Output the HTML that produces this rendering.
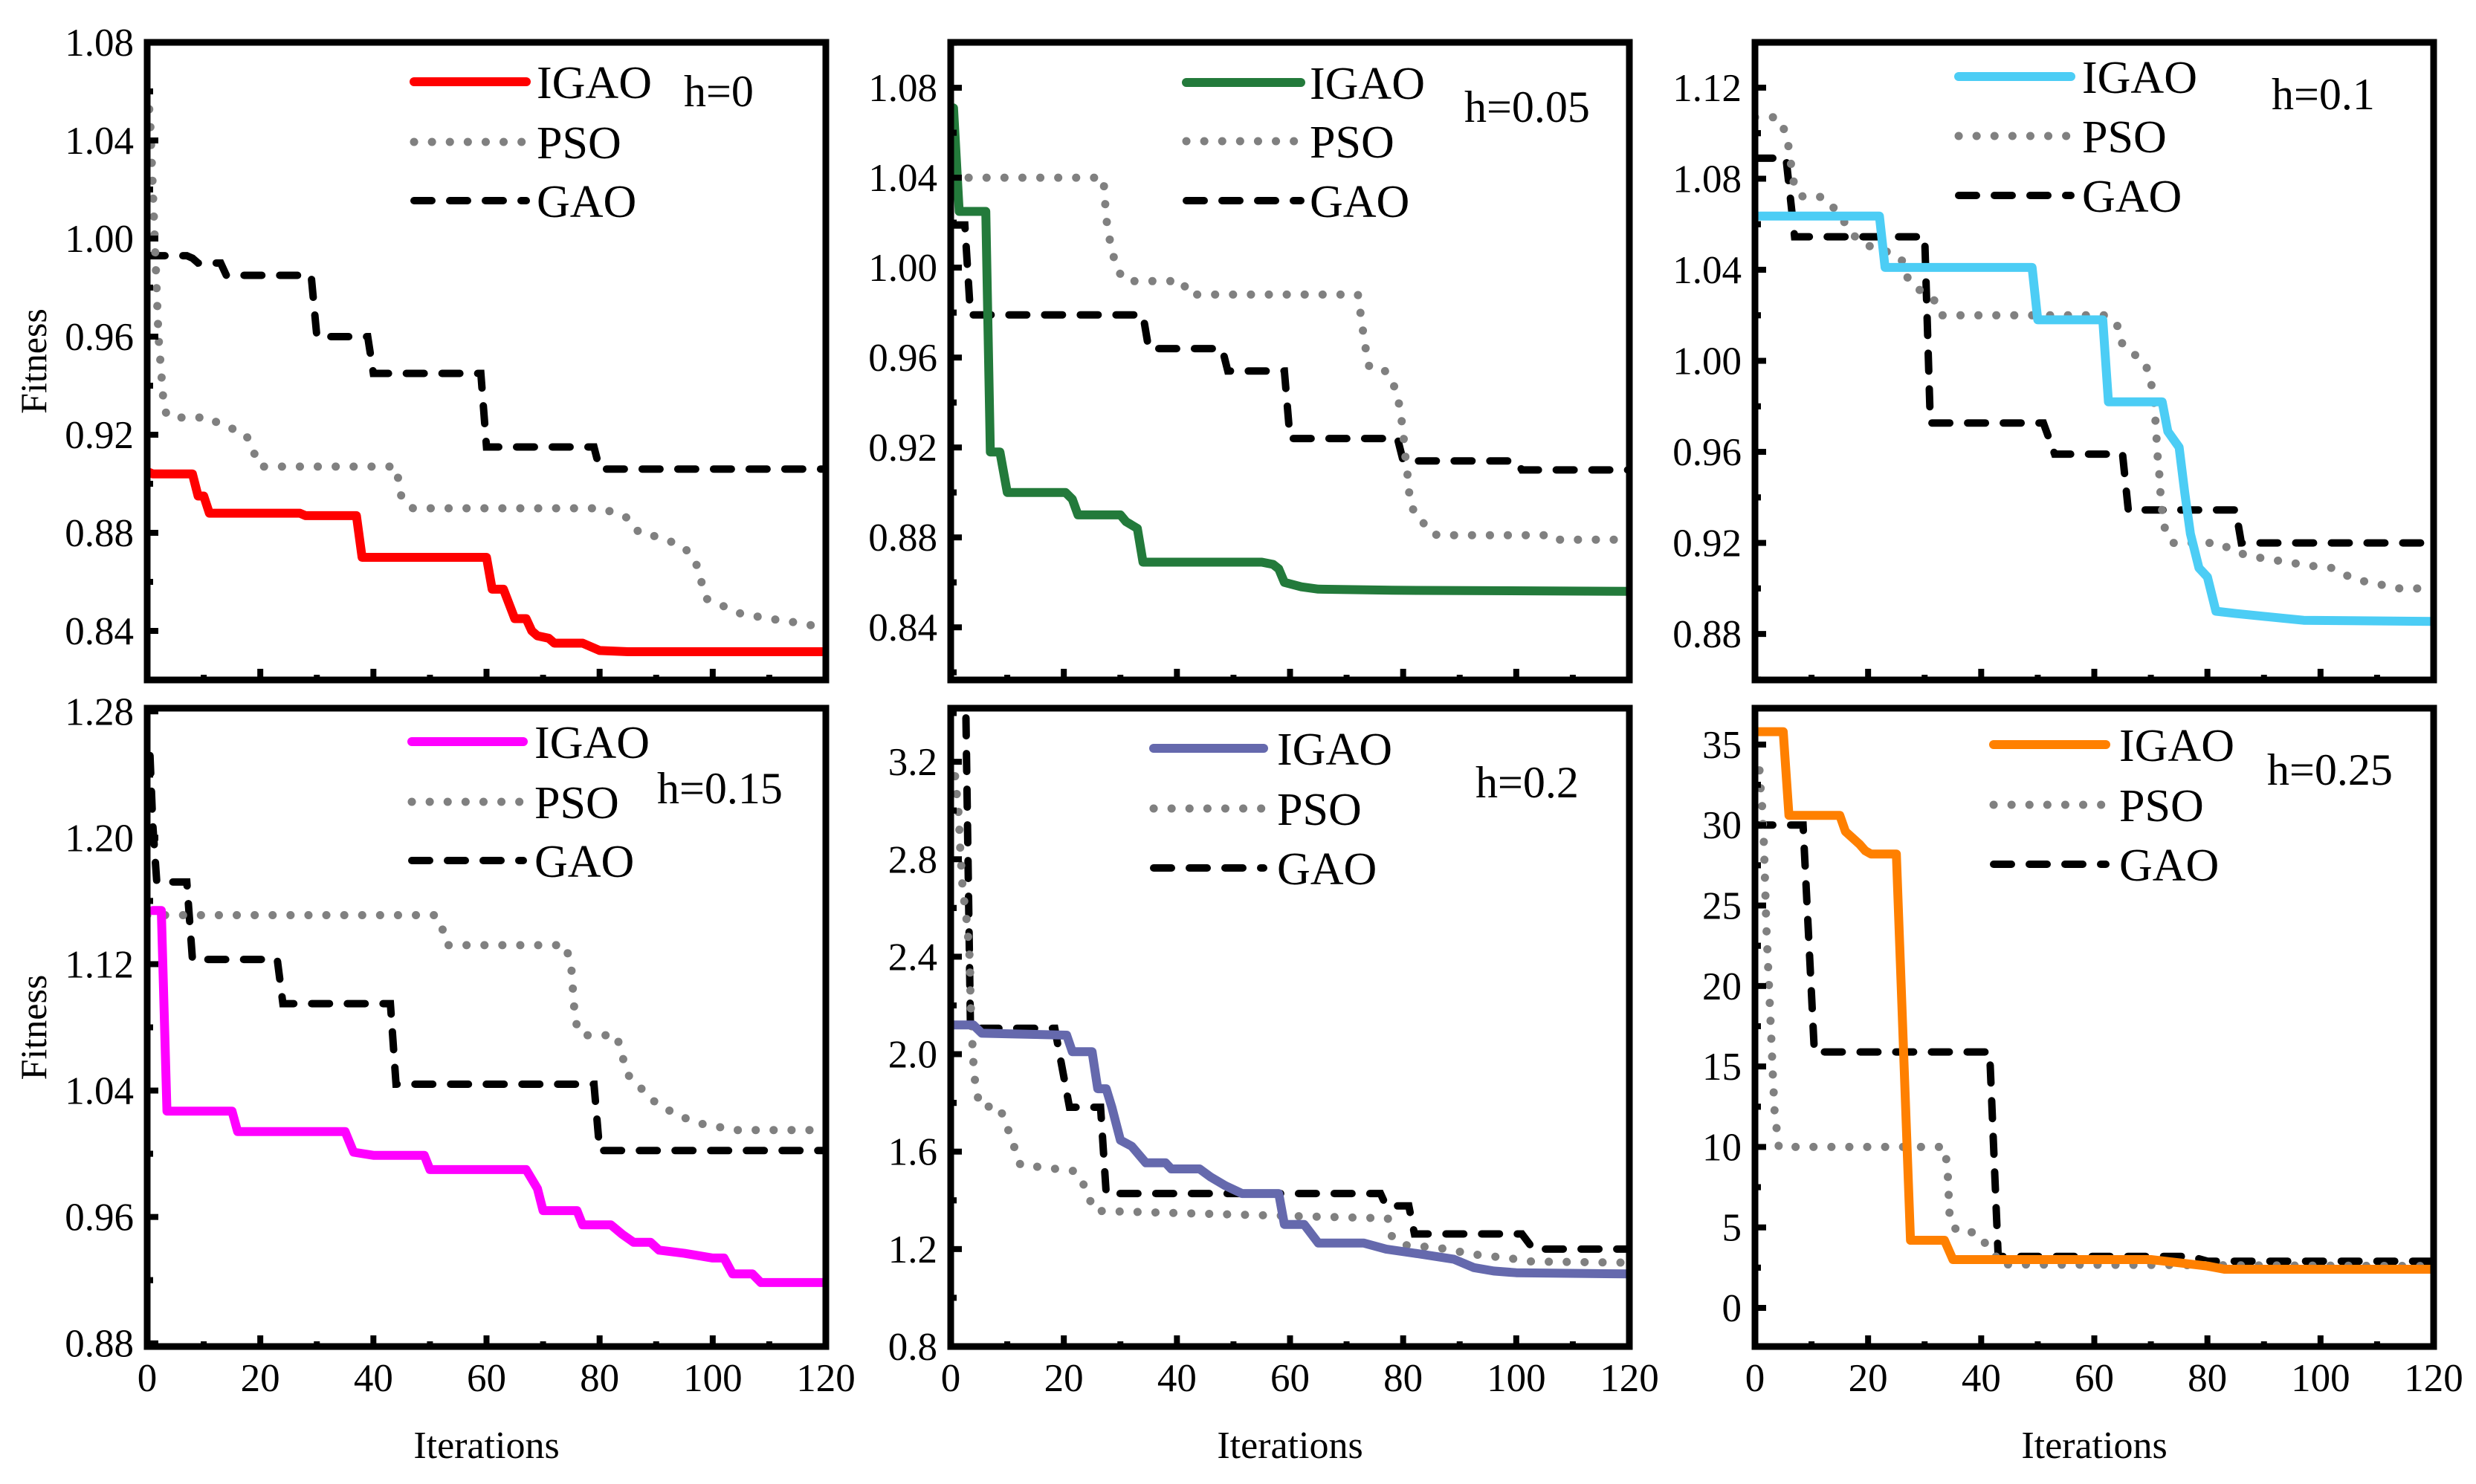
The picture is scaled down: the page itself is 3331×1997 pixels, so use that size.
<!DOCTYPE html>
<html><head><meta charset="utf-8"><style>
html,body{margin:0;padding:0;background:#fff;}
svg{display:block;font-family:"Liberation Serif",serif;}
</style></head><body>
<svg id="chart" xmlns="http://www.w3.org/2000/svg" width="3331" height="1997" viewBox="0 0 3331 1997"></svg>
<script>
// ---- data: h=0 ----
const h0_igao_x=[0,1,8,9,10,11,27,28,37,38,60,61,63,65,67,68,69,71,72,77,80,85,120];
const h0_igao_y=[0.905,0.904,0.904,0.895,0.895,0.888,0.888,0.887,0.887,0.870,0.870,0.857,0.857,0.845,0.845,0.840,0.838,0.837,0.835,0.835,0.832,0.8315,0.8315];
const h0_pso_x=[0,0.5,1,1.5,2,2.5,3,4,11,13,17,18,19,20,44,45,47,80,83,85,87,91,95,97,98,99,102,105,110,116,120];
const h0_pso_y=[1.06,1.05,1.02,0.99,0.96,0.945,0.93,0.927,0.927,0.924,0.921,0.918,0.912,0.907,0.907,0.894,0.890,0.890,0.888,0.886,0.880,0.878,0.874,0.868,0.860,0.853,0.850,0.847,0.845,0.843,0.841];
const h0_gao_x=[0,7,8,9,13,14,29,30,39,40,59,60,79,80,120];
const h0_gao_y=[0.993,0.993,0.992,0.990,0.990,0.985,0.985,0.960,0.960,0.945,0.945,0.915,0.915,0.906,0.906];
// ---- data: h=0.05 ----
const h05_igao_x=[0.5,1.5,6.2,7,8.7,10,20.3,21.5,22.5,30,31,33,34,55,57,58,59,62,65,78,120];
const h05_igao_y=[1.071,1.025,1.025,0.918,0.918,0.900,0.900,0.897,0.890,0.890,0.887,0.884,0.869,0.869,0.868,0.866,0.860,0.858,0.857,0.8565,0.856];
const h05_pso_x=[0,27,27.5,28,28.5,29,30,31,41,42,72,72.5,73,73.5,74,76.5,78,79,79.5,80,80.3,80.7,81,81.5,83,84,86,105,106,120];
const h05_pso_y=[1.04,1.04,1.022,1.014,1.008,1.003,0.997,0.994,0.994,0.988,0.988,0.979,0.970,0.962,0.956,0.955,0.950,0.943,0.936,0.927,0.918,0.910,0.901,0.893,0.890,0.884,0.881,0.881,0.879,0.879];
const h05_gao_x=[0,2.5,3.5,34,35,48,49,59,60,79,80,100,101,120];
const h05_gao_y=[1.019,1.019,0.979,0.979,0.964,0.964,0.954,0.954,0.924,0.924,0.914,0.914,0.910,0.910];
// ---- data: h=0.1 ----
const h1_igao_x=[0,22,23,49,50,61.5,62.5,72,73,75,76,77,78.5,80,81.5,85,93,97,120];
const h1_igao_y=[1.0636,1.0636,1.041,1.041,1.018,1.018,0.982,0.982,0.969,0.962,0.942,0.924,0.909,0.905,0.890,0.889,0.887,0.886,0.8855];
const h1_pso_x=[0,4,5.5,6,6.5,7,8.5,12,14,15.5,17.5,19.5,24.5,26,26.5,27.5,32,33,62,64,65,69,70,70.5,70.8,71,71.2,71.5,71.7,72,72.5,74,82,85,88,93,98,102,106,110,114,120];
const h1_pso_y=[1.107,1.107,1.100,1.093,1.084,1.076,1.072,1.072,1.067,1.062,1.055,1.051,1.047,1.044,1.039,1.034,1.026,1.020,1.020,1.016,1.007,0.999,0.991,0.983,0.974,0.966,0.958,0.950,0.942,0.934,0.926,0.920,0.920,0.916,0.914,0.912,0.910,0.909,0.904,0.902,0.900,0.900];
const h1_gao_x=[0,5.5,7,30,31,51,53,65,66,85,86,120];
const h1_gao_y=[1.089,1.089,1.0545,1.0545,0.9727,0.9727,0.959,0.959,0.9345,0.9345,0.920,0.920];
// ---- data: h=0.15 ----
const h15_igao_x=[1,2.5,3.5,15,16,35,36.5,40,49,50,67,69,70,76,77,82,84,86,89,90.5,95,100,102,103.5,107,108.5,120];
const h15_igao_y=[1.154,1.154,1.027,1.027,1.014,1.014,1.001,0.999,0.999,0.990,0.990,0.978,0.964,0.964,0.955,0.955,0.949,0.944,0.944,0.939,0.937,0.934,0.934,0.924,0.924,0.9185,0.9185];
const h15_pso_x=[0,51,52,53,74,75,75.5,76,77,83,84,85,88,90,94,98,104,120];
const h15_pso_y=[1.151,1.151,1.145,1.132,1.132,1.118,1.093,1.080,1.075,1.075,1.062,1.050,1.039,1.032,1.024,1.019,1.015,1.015];
const h15_gao_x=[0.5,1,1.7,7,8,23,24,43,44,79,80,120];
const h15_gao_y=[1.252,1.208,1.172,1.172,1.123,1.123,1.095,1.095,1.044,1.044,1.002,1.002];
// ---- data: h=0.2 ----
const h2_igao_x=[0,4,5.5,20.5,21.5,25,26,27.5,28.5,30,32,34.5,38,39,44,46,48.5,51.5,58,59,62.5,65,73,77,82,89,92.5,96,100,120];
const h2_igao_y=[2.12,2.12,2.086,2.078,2.01,2.01,1.858,1.858,1.782,1.647,1.622,1.554,1.554,1.529,1.529,1.495,1.461,1.428,1.428,1.301,1.301,1.225,1.225,1.2,1.183,1.158,1.124,1.11,1.103,1.098];
const h2_pso_x=[0.78,1.4,1.7,2.1,2.9,3.4,3.5,3.75,4.1,4.5,5.2,8.6,10.5,12.3,21.9,23.4,25.4,61.3,77.3,77.9,80,86.3,92.6,99.2,102.7,120];
const h2_pso_y=[3.141,2.984,2.837,2.682,2.533,2.381,2.229,2.083,1.929,1.853,1.785,1.785,1.669,1.546,1.520,1.47,1.357,1.335,1.326,1.255,1.217,1.205,1.178,1.161,1.149,1.144];
const h2_gao_x=[2.7,3.5,18.4,21,26.5,27.5,76,77,81,82,101,103,120];
const h2_gao_y=[3.38,2.106,2.106,1.782,1.782,1.428,1.428,1.377,1.377,1.262,1.262,1.2,1.2];
// ---- data: h=0.25 ----
const h25_igao_x=[0,5,6,15,16,18.5,19.5,20.5,25,27.5,33.5,35,70,80,83,120];
const h25_igao_y=[35.8,35.8,30.6,30.6,29.6,28.8,28.4,28.2,28.2,4.2,4.2,3.0,3.0,2.6,2.4,2.4];
const h25_pso_x=[0.8,1,1.3,1.6,1.8,2.0,2.3,2.6,2.9,3.2,3.5,4,4.2,33.5,34,34.2,34.3,34.5,36,39,42.5,43,120];
const h25_pso_y=[33.4,32.3,31.0,28.6,26.2,23.8,21.4,19.0,16.6,14.2,12.0,10.7,10.0,10.0,8.8,7.6,6.4,5.3,4.7,4.7,3.3,2.7,2.6];
const h25_gao_x=[0,8.5,10.5,41.5,43,77,80,120];
const h25_gao_y=[30,30,15.9,15.9,3.2,3.2,2.9,2.9];
// ---- tick labels ----
const ticks_h0=["0.84","0.88","0.92","0.96","1.00","1.04","1.08"];
const ticks_h05=["0.84","0.88","0.92","0.96","1.00","1.04","1.08"];
const ticks_h1=["0.88","0.92","0.96","1.00","1.04","1.08","1.12"];
const ticks_h15=["0.88","0.96","1.04","1.12","1.20","1.28"];
const ticks_h2=["0.8","1.2","1.6","2.0","2.4","2.8","3.2"];
const ticks_h25=["0","5","10","15","20","25","30","35"];
const xTicks=["0","20","40","60","80","100","120"];
const seriesNames=["IGAO","PSO","GAO"];

const NS="http://www.w3.org/2000/svg";
const svg=document.getElementById('chart');
function mk(tag,attrs,parent){const e=document.createElementNS(NS,tag);for(const k in attrs)e.setAttribute(k,attrs[k]);(parent||svg).appendChild(e);return e;}

const panels=[
 {id:'h0',L:198,T:57,B:915,ymin:0.82,ymax:1.08,ticks:ticks_h0,minorStep:0.02,color:'#ff0000',label:'h=0',lg:[359,510,524],lgy:[110,191,270],hx:722,hy:121,xl:false,fit:true,
  s:[[h0_igao_x,h0_igao_y],[h0_pso_x,h0_pso_y],[h0_gao_x,h0_gao_y]]},
 {id:'h05',L:1279,T:57,B:915,ymin:0.8166,ymax:1.1002,ticks:ticks_h05,minorStep:0.02,color:'#237a3b',label:'h=0.05',lg:[317,471,483],lgy:[111,190,270],hx:691,hy:142,xl:false,fit:false,
  s:[[h05_igao_x,h05_igao_y],[h05_pso_x,h05_pso_y],[h05_gao_x,h05_gao_y]]},
 {id:'h1',L:2361,T:57,B:915,ymin:0.8598,ymax:1.1399,ticks:ticks_h1,minorStep:0.02,color:'#4ccdf5',label:'h=0.1',lg:[274,425,440],lgy:[103,183,263],hx:695,hy:125,xl:false,fit:false,
  s:[[h1_igao_x,h1_igao_y],[h1_pso_x,h1_pso_y],[h1_gao_x,h1_gao_y]]},
 {id:'h15',L:198,T:953,B:1812,ymin:0.878,ymax:1.282,ticks:ticks_h15,minorStep:0.04,color:'#ff00ff',label:'h=0.15',lg:[356,506,521],lgy:[998,1079,1158],hx:686,hy:1059,xl:true,fit:true,
  s:[[h15_igao_x,h15_igao_y],[h15_pso_x,h15_pso_y],[h15_gao_x,h15_gao_y]]},
 {id:'h2',L:1279,T:953,B:1812,ymin:0.8,ymax:3.42,ticks:ticks_h2,minorStep:0.2,color:'#6569ad',label:'h=0.2',lg:[273,421,439],lgy:[1007,1088,1168],hx:706,hy:1051,xl:true,fit:false,
  s:[[h2_igao_x,h2_igao_y],[h2_pso_x,h2_pso_y],[h2_gao_x,h2_gao_y]]},
 {id:'h25',L:2361,T:953,B:1812,ymin:-2.4,ymax:37.26,ticks:ticks_h25,minorStep:2.5,color:'#ff8000',label:'h=0.25',lg:[321,472,490],lgy:[1002,1083,1163],hx:689,hy:1034,xl:true,fit:false,
  s:[[h25_igao_x,h25_igao_y],[h25_pso_x,h25_pso_y],[h25_gao_x,h25_gao_y]]}
];
const W=913;

panels.forEach((p,pi)=>{
  const g=mk('g',{});
  
  
  const xs=v=>p.L+v/120*W;
  const ys=v=>p.B-(v-p.ymin)/(p.ymax-p.ymin)*(p.B-p.T);
  const cp=mk('clipPath',{id:'clip'+pi},g);
  mk('rect',{x:p.L,y:p.T,width:W,height:p.B-p.T},cp);
  const styles=[
    {stroke:p.color,'stroke-width':12,fill:'none','stroke-linejoin':'round','stroke-linecap':'round'},
    {stroke:'#808080','stroke-width':11,fill:'none','stroke-dasharray':'0.1 24','stroke-linecap':'round'},
    {stroke:'#000','stroke-width':10,fill:'none','stroke-dasharray':'24 24','stroke-linecap':'round'}
  ];
  [2,1,0].forEach(si=>{
    const [X,Y]=p.s[si];
    let d='';
    X.forEach((xv,i)=>{d+=(i?'L':'M')+xs(xv).toFixed(1)+','+ys(Y[i]).toFixed(1);});
    const a=Object.assign({d:d,'clip-path':'url(#clip'+pi+')'},styles[si]);
    const path=mk('path',a,g);
    
    
  });
  const fr=mk('rect',{x:p.L,y:p.T,width:W,height:p.B-p.T,fill:'none',stroke:'#000','stroke-width':9},g);
  
  
  p.ticks.forEach(t=>{
    const v=parseFloat(t), y=ys(v);
    mk('line',{x1:p.L,x2:p.L+15,y1:y,y2:y,stroke:'#000','stroke-width':8},g);
    const tx=mk('text',{x:p.L-18,y:y+18,'text-anchor':'end','font-size':53,fill:'#000'},g);
    tx.textContent=t;
    
    
  });
  for(let k=0;k<p.ticks.length;k++){
    [-1,1].forEach(sg=>{
      const v=parseFloat(p.ticks[k])+sg*p.minorStep;
      if(v>p.ymin&&v<p.ymax){const y=ys(v);mk('line',{x1:p.L,x2:p.L+8,y1:y,y2:y,stroke:'#000','stroke-width':8},g);}
    });
  }
  xTicks.forEach(t=>{
    const v=parseFloat(t), x=xs(v);
    if(v>0&&v<120) mk('line',{x1:x,x2:x,y1:p.B,y2:p.B-15,stroke:'#000','stroke-width':8},g);
    if(v+10<120) mk('line',{x1:xs(v+10),x2:xs(v+10),y1:p.B,y2:p.B-7,stroke:'#000','stroke-width':8},g);
    if(p.xl){
      const tx=mk('text',{x:x,y:p.B+60,'text-anchor':'middle','font-size':53,fill:'#000'},g);
      tx.textContent=t;
      
      
    }
  });
  if(p.xl){
    const xt=mk('text',{x:p.L+W/2,y:1962,'text-anchor':'middle','font-size':52,fill:'#000'},g);
    xt.textContent='Iterations';
    
    
  }
  if(p.fit){
    const cy=(p.T+p.B)/2;
    const yt=mk('text',{x:0,y:0,transform:'translate(62,'+cy+') rotate(-90)','text-anchor':'middle','font-size':50,fill:'#000'},g);
    yt.textContent='Fitness';
    
    
  }
  seriesNames.forEach((nm,si)=>{
    const y=p.lgy[si];
    const lg=mk('g',{},g);
    
    
    mk('path',Object.assign({d:'M'+(p.L+p.lg[0])+','+y+'L'+(p.L+p.lg[1])+','+y},styles[si]),lg);
    const tx=mk('text',{x:p.L+p.lg[2],y:y+22,'font-size':62,fill:'#000'},lg);
    tx.textContent=nm;
  });
  const hl=mk('text',{x:p.L+p.hx,y:p.hy+22,'font-size':60,fill:'#000'},g);
  hl.textContent=p.label;
  
  
});
</script>
</body></html>
